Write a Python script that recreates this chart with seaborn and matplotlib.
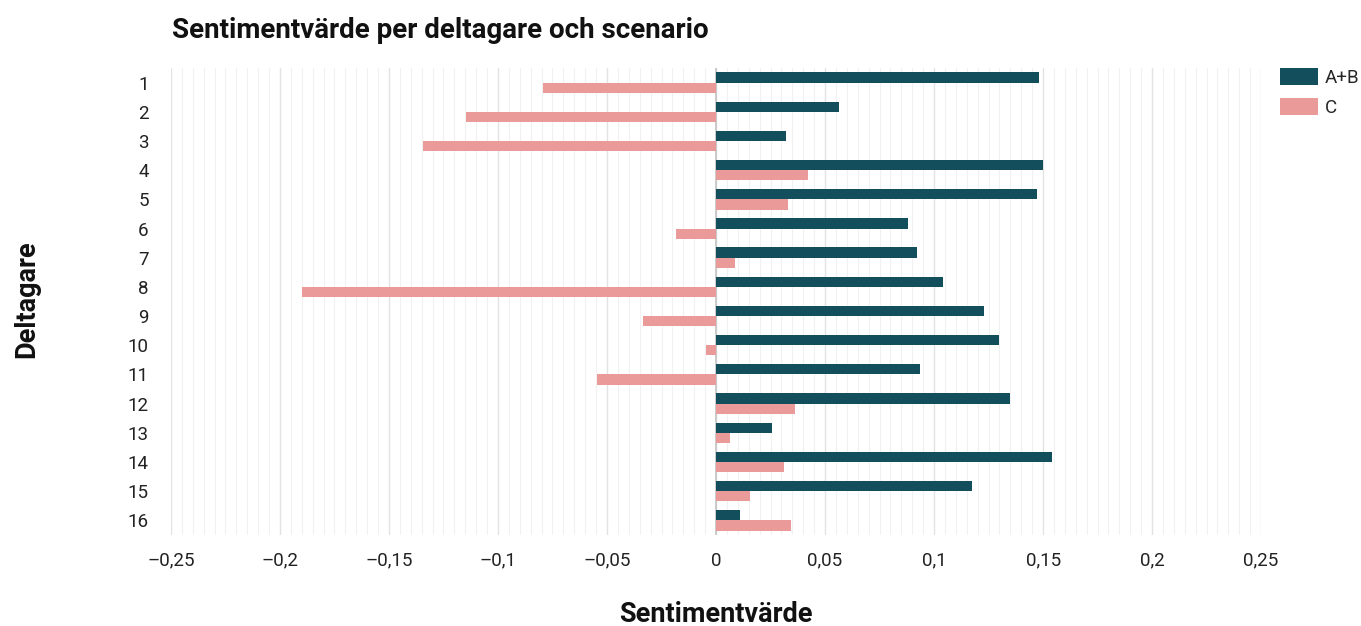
import numpy as np
import pandas as pd
import matplotlib
matplotlib.use('Agg')
import matplotlib.pyplot as plt
import seaborn as sns
from matplotlib.ticker import MultipleLocator, FuncFormatter

deltagare = [str(i) for i in range(1, 17)]
ab = [0.148, 0.0565, 0.032, 0.150, 0.147, 0.088, 0.092, 0.104,
      0.123, 0.130, 0.0935, 0.135, 0.0255, 0.154, 0.1175, 0.011]
c = [-0.0795, -0.1145, -0.1345, 0.042, 0.033, -0.0185, 0.0088, -0.190,
     -0.0335, -0.0047, -0.0545, 0.036, 0.0065, 0.031, 0.0156, 0.0346]
scenarier = ['A+B', 'C']
farger = ['#134e5d', '#ea9a98']

df = pd.DataFrame({
    'Deltagare': deltagare * 2,
    'Scenario': ['A+B'] * 16 + ['C'] * 16,
    'Sentimentvärde': ab + c,
})

sns.set_style('white')
plt.rcParams['font.family'] = ['Roboto', 'DejaVu Sans']

fig = plt.figure(figsize=(13.61, 6.26), dpi=100)
ax = fig.add_axes([0.1256, 0.1454, 0.801, 0.746])

sns.barplot(data=df, y='Deltagare', x='Sentimentvärde', hue='Scenario',
            order=deltagare, hue_order=scenarier, palette=farger,
            orient='h', width=0.7, saturation=1, linewidth=0,
            errorbar=None, ax=ax, zorder=3)

ax.set_xlim(-0.25, 0.25)
ax.xaxis.set_major_locator(MultipleLocator(0.05))
ax.xaxis.set_minor_locator(MultipleLocator(0.005))
ax.grid(which='major', axis='x', color='#e3e3e3', linewidth=1.0, zorder=0)
ax.grid(which='minor', axis='x', color='#f1f1f1', linewidth=0.8, zorder=0)
ax.grid(False, axis='y')
ax.set_axisbelow(True)
ax.axvline(0, color='#c4c4c4', linewidth=1.2, zorder=2)


def fmt(v, pos):
    if abs(v) < 1e-9:
        return '0'
    s = ('%.2f' % v).rstrip('0').replace('.', ',')
    return s.replace('-', '\u2013')


ax.xaxis.set_major_formatter(FuncFormatter(fmt))
ax.tick_params(axis='both', which='both', length=0, labelsize=13.5, colors='#222222')
ax.tick_params(axis='x', pad=12)
ax.tick_params(axis='y', pad=16)
sns.despine(ax=ax, left=True, bottom=True)

ax.set_xlabel('')
ax.set_ylabel('')
fig.text(716 / 1361, 1 - 615 / 626, 'Sentimentvärde', fontsize=19.5,
         fontweight='bold', ha='center', va='center', color='#111111')
fig.text(27 / 1361, 1 - 299 / 626, 'Deltagare', fontsize=19.5, rotation=90,
         fontweight='bold', ha='center', va='center', color='#111111')
fig.text(172 / 1361, 1 - 30 / 626, 'Sentimentvärde per deltagare och scenario',
         fontsize=20, fontweight='bold', va='center', ha='left', color='#111111')

ax.legend(loc='upper left', bbox_to_anchor=(1.0174, 1.0), frameon=False,
          fontsize=13.5, handlelength=2.0, handleheight=1.0, handletextpad=0.4,
          labelspacing=0.6, borderpad=0, borderaxespad=0)

fig.savefig('out.png', dpi=100)
